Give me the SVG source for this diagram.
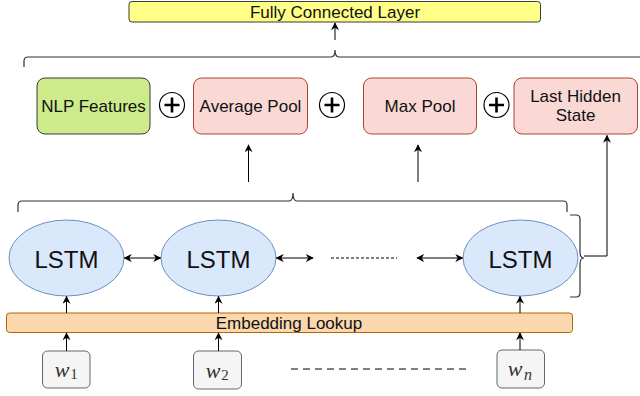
<svg xmlns="http://www.w3.org/2000/svg" width="640" height="396" viewBox="0 0 640 396">
<defs>
<marker id="ah" viewBox="0 0 10 10" refX="9" refY="5" markerWidth="8" markerHeight="8" markerUnits="userSpaceOnUse" orient="auto-start-reverse">
<path d="M0,0 L10,5 L0,10 L3,5 Z" fill="#000"/>
</marker>
<style>
text{font-family:"Liberation Sans",Arial,sans-serif;fill:#111;text-anchor:middle;dominant-baseline:central}
.fc{fill:#ffff88;stroke:#36393d;stroke-width:1}
.nlp{fill:#cdeb8b;stroke:#36393d;stroke-width:1}
.pool{fill:#fad9d5;stroke:#ae4132;stroke-width:1}
.lstm{fill:#dae8fc;stroke:#6c8ebf;stroke-width:1}
.emb{fill:#fad7ac;stroke:#b46504;stroke-width:1}
.word{fill:#f5f5f5;stroke:#666;stroke-width:1}
.edge{fill:none;stroke:#000;stroke-width:1}
.brace{fill:none;stroke:#333;stroke-width:1.2}
.plusc{fill:#fff;stroke:#000;stroke-width:1.2}
.plusl{stroke:#000;stroke-width:2.6}
.math{font-family:"Liberation Serif","Times New Roman",serif;font-style:italic;fill:#333}
.sub{font-family:"Liberation Serif","Times New Roman",serif;fill:#333}
</style>
</defs>

<g id="fc"><rect class="fc" x="129" y="1.5" width="411.5" height="20.5" rx="3"/><text x="335" y="12" font-size="17">Fully Connected Layer</text></g>

<g id="nlp"><rect class="nlp" x="37" y="78" width="113" height="56" rx="8"/><text x="93.5" y="106" font-size="17">NLP Features</text></g>
<g id="plus1"><circle class="plusc" cx="172" cy="105" r="12.5"/><path class="plusl" d="M164.5,105 H179.5 M172,97.5 V112.5"/></g>
<g id="avg"><rect class="pool" x="193.5" y="78" width="114" height="56" rx="8"/><text x="250.5" y="106" font-size="17">Average Pool</text></g>
<g id="plus2"><circle class="plusc" cx="332" cy="105" r="12.5"/><path class="plusl" d="M324.5,105 H339.5 M332,97.5 V112.5"/></g>
<g id="max"><rect class="pool" x="363.5" y="78" width="113" height="56" rx="8"/><text x="420" y="106" font-size="17">Max Pool</text></g>
<g id="plus3"><circle class="plusc" cx="496.5" cy="105" r="12.5"/><path class="plusl" d="M489,105 H504 M496.5,97.5 V112.5"/></g>
<g id="last"><rect class="pool" x="514" y="78" width="123.5" height="56" rx="8"/><text x="575.5" y="96" font-size="17">Last Hidden</text><text x="575.5" y="115" font-size="17">State</text></g>

<g id="lstm1"><ellipse class="lstm" cx="66.5" cy="258" rx="57.5" ry="38"/><text x="66.5" y="259" font-size="24">LSTM</text></g>
<g id="lstm2"><ellipse class="lstm" cx="218.5" cy="258" rx="57.5" ry="38"/><text x="218.5" y="259" font-size="24">LSTM</text></g>
<g id="lstm3"><ellipse class="lstm" cx="520.5" cy="258" rx="57.5" ry="38"/><text x="520.5" y="259" font-size="24">LSTM</text></g>

<g id="emb"><rect class="emb" x="6.5" y="313" width="566" height="19.5" rx="3"/><text x="289" y="323" font-size="17">Embedding Lookup</text></g>

<g id="w1"><rect class="word" x="42.5" y="351" width="47.5" height="37" rx="5"/><text class="math" x="62" y="369" font-size="22">w</text><text class="sub" x="74" y="374" font-size="15">1</text></g>
<g id="w2"><rect class="word" x="193.5" y="351" width="48" height="38" rx="5"/><text class="math" x="213" y="370" font-size="22">w</text><text class="sub" x="225" y="375" font-size="15">2</text></g>
<g id="wn"><rect class="word" x="497" y="350" width="47.5" height="38" rx="5"/><text class="math" x="515" y="368" font-size="22">w</text><text class="math" x="528" y="374" font-size="16">n</text></g>

<g id="braces">
<path class="brace" d="M24,67 V61 Q24,57 28,57 H331 Q335,57 335,50 Q335,57 339,57 H640"/>
<path class="brace" d="M18,212 V205 Q18,201 22,201 H289 Q293,201 293,193 Q293,201 297,201 H563 Q567,201 567,205 V212"/>
<path class="brace" d="M570,215 H576 Q580,215 580,219 V252 Q580,258 584,258 Q580,258 580,264 V293 Q580,297 576,297 H570"/>
</g>

<g id="connectors">
<line class="edge" x1="335" y1="40" x2="335" y2="23" marker-end="url(#ah)"/>
<line class="edge" x1="248.5" y1="182" x2="248.5" y2="145" marker-end="url(#ah)"/>
<line class="edge" x1="418" y1="182" x2="418" y2="145" marker-end="url(#ah)"/>
<path class="edge" d="M584,256 H607 V135.5" marker-end="url(#ah)"/>
<line class="edge" x1="124.5" y1="258" x2="160.5" y2="258" marker-start="url(#ah)" marker-end="url(#ah)"/>
<line class="edge" x1="276.5" y1="258" x2="313" y2="258" marker-start="url(#ah)" marker-end="url(#ah)"/>
<line class="edge" x1="331" y1="258" x2="397" y2="258" stroke-dasharray="3,2"/>
<line class="edge" x1="417" y1="258" x2="462.5" y2="258" marker-start="url(#ah)" marker-end="url(#ah)"/>
<line class="edge" x1="66.5" y1="313" x2="66.5" y2="296.5" marker-end="url(#ah)"/>
<line class="edge" x1="218.5" y1="313" x2="218.5" y2="296.5" marker-end="url(#ah)"/>
<line class="edge" x1="520" y1="313" x2="520" y2="296.5" marker-end="url(#ah)"/>
<line class="edge" x1="66.5" y1="351" x2="66.5" y2="333" marker-end="url(#ah)"/>
<line class="edge" x1="218.5" y1="351" x2="218.5" y2="333" marker-end="url(#ah)"/>
<line class="edge" x1="520" y1="350" x2="520" y2="333" marker-end="url(#ah)"/>
<line class="edge" x1="291" y1="369" x2="470" y2="369" stroke-width="2" stroke-dasharray="7,5"/>
</g>
</svg>
